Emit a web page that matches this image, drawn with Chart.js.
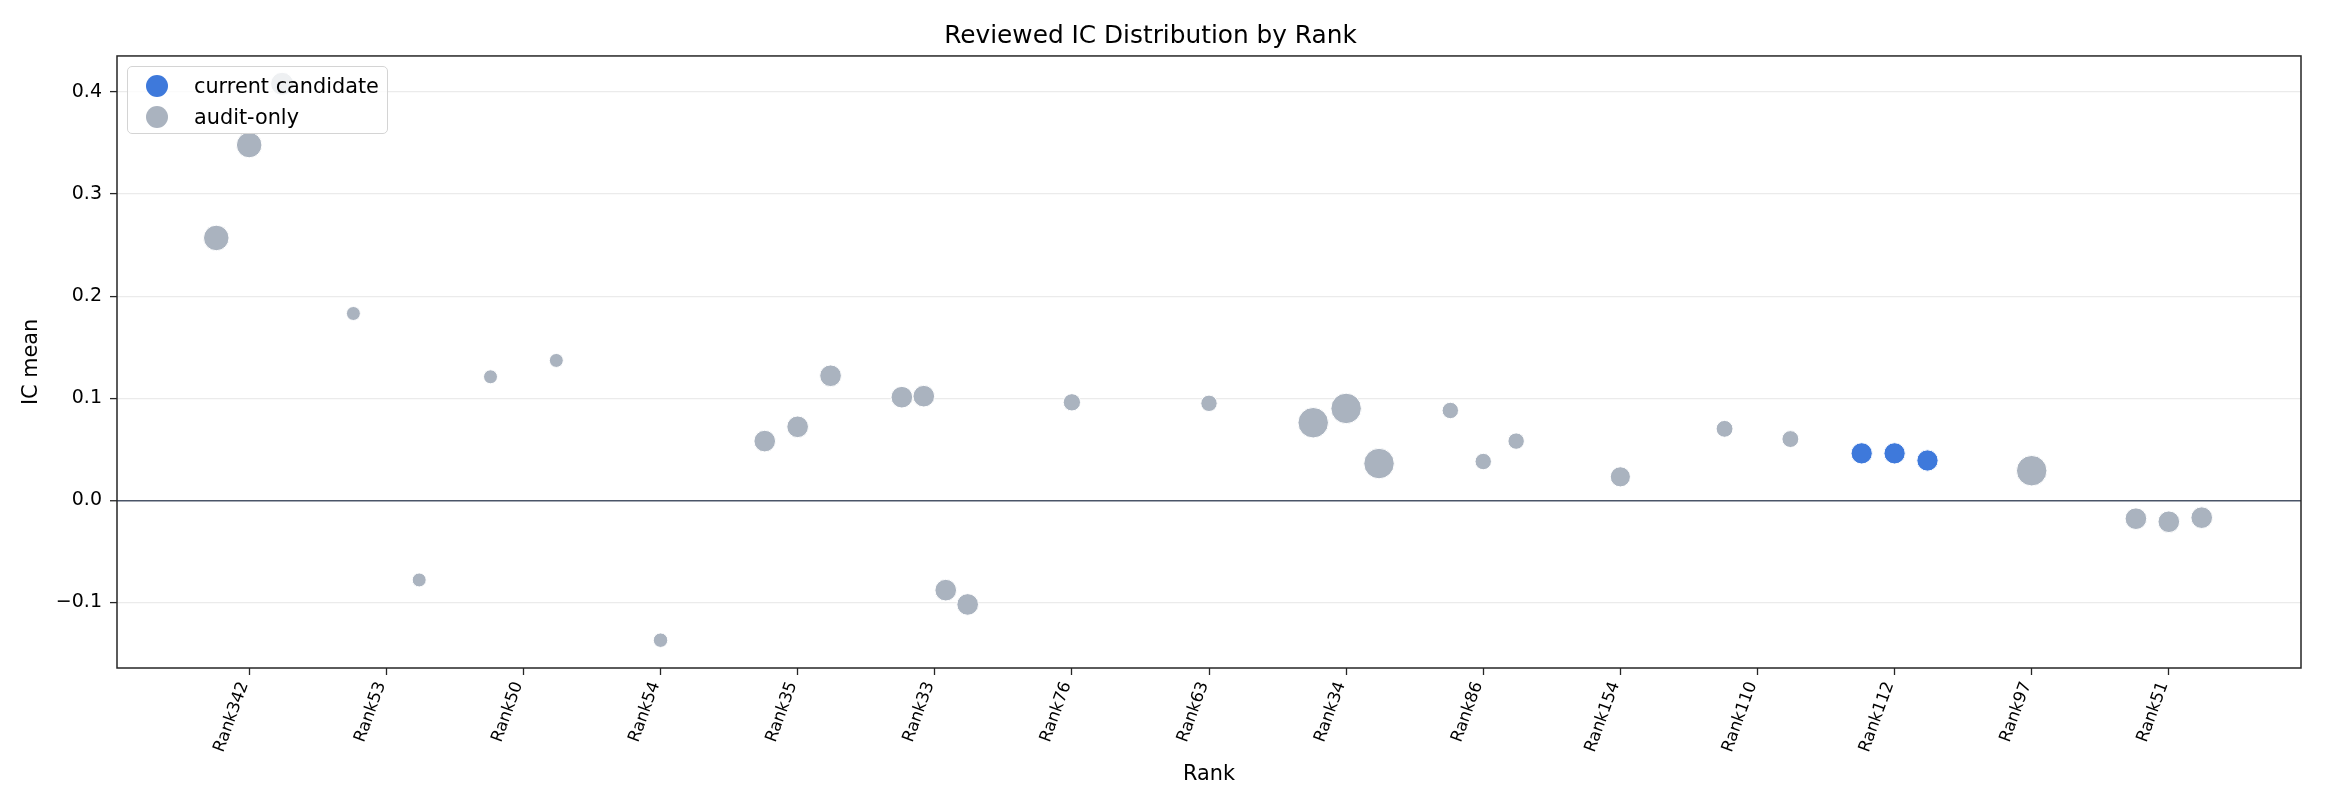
<!DOCTYPE html>
<html>
<head>
<meta charset="utf-8">
<script src="https://cdn.jsdelivr.net/npm/chart.js@4"></script>
<style>
  body { margin: 0; background: #fff; }
  #wrap { position: relative; width: 2325px; height: 810px; }
  #legend {
    position: absolute; left: 127px; top: 66px; width: 259px; height: 66px;
    border: 1.5px solid #d4d4d4; border-radius: 5px; background: rgba(255,255,255,0.8);
    font-family: 'DejaVu Sans', sans-serif; font-size: 20.8px; color: #000;
  }
  #legend .item { position: absolute; left: 0; height: 30px; line-height: 30px; white-space: nowrap; }
  #legend .dot { position: absolute; left: 18px; top: 4px; width: 22px; height: 22px; border-radius: 50%; }
  #legend .txt { position: absolute; left: 66px; top: 0; }
</style>
</head>
<body>
<div id="wrap">
  <canvas id="chart" width="2325" height="810"></canvas>
  <div id="legend"></div>
</div>
<script>
// categories along the x axis
const ranks = ['Rank342', 'Rank53', 'Rank50', 'Rank54', 'Rank35', 'Rank33', 'Rank76', 'Rank63',
  'Rank34', 'Rank86', 'Rank154', 'Rank110', 'Rank112', 'Rank97', 'Rank51'];

// one entry per reviewed factor
const pointRank = ['Rank342', 'Rank342', 'Rank342', 'Rank53', 'Rank53', 'Rank50', 'Rank50', 'Rank54',
  'Rank35', 'Rank35', 'Rank35', 'Rank33', 'Rank33', 'Rank33', 'Rank33', 'Rank76', 'Rank63',
  'Rank34', 'Rank34', 'Rank34', 'Rank86', 'Rank86', 'Rank86', 'Rank154', 'Rank110', 'Rank110',
  'Rank112', 'Rank112', 'Rank112', 'Rank97', 'Rank51', 'Rank51', 'Rank51'];
const icMean = [0.257, 0.348, 0.408, 0.183, -0.078, 0.121, 0.137, -0.137,
  0.058, 0.072, 0.122, 0.101, 0.102, -0.088, -0.102, 0.096, 0.095,
  0.076, 0.090, 0.036, 0.088, 0.038, 0.058, 0.023, 0.070, 0.060,
  0.046, 0.046, 0.039, 0.029, -0.018, -0.021, -0.017];
const weight = [44, 44, 36, 14, 14, 14, 14, 15,
  32, 32, 32, 32, 32, 32, 32, 21, 19,
  62, 62, 62, 19, 19, 19, 28, 20, 20,
  31, 31, 31, 62, 32, 32, 32];
const candidate = [false, false, false, false, false, false, false, false,
  false, false, false, false, false, false, false, false, false,
  false, false, false, false, false, false, false, false, false,
  true, true, true, false, false, false, false];

const seriesNames = ['current candidate', 'audit-only'];
const seriesColors = ['#3e79db', '#aab3bf'];

// spread points of one rank a little sideways
const groupCount = {};
pointRank.forEach(r => { groupCount[r] = (groupCount[r] || 0) + 1; });
const seen = {};
const points = pointRank.map((r, i) => {
  const n = groupCount[r];
  const k = seen[r] = (seen[r] === undefined ? 0 : seen[r] + 1);
  const jitter = n === 1 ? 0 : -0.24 + 0.48 * k / (n - 1);
  return { x: ranks.indexOf(r) + jitter, y: icMean[i], r: 2 * Math.sqrt(weight[i]) - 0.5, cand: candidate[i] };
});

const xs = points.map(p => p.x), ys = points.map(p => p.y);
const xPad = (Math.max(...xs) - Math.min(...xs)) * 0.05;
const yPad = (Math.max(...ys) - Math.min(...ys)) * 0.05;

const font = 'DejaVu Sans';

const framePlugin = {
  id: 'frame',
  afterDraw(chart) {
    const { ctx, chartArea: a } = chart;
    ctx.save();
    ctx.strokeStyle = '#262626';
    ctx.lineWidth = 1.5;
    ctx.strokeRect(a.left, a.top, a.right - a.left, a.bottom - a.top);
    ctx.restore();
  }
};

const chart = new Chart(document.getElementById('chart').getContext('2d'), {
  type: 'bubble',
  data: {
    datasets: [
      {
        label: seriesNames[1],
        data: points.filter(p => !p.cand),
        backgroundColor: seriesColors[1],
        borderColor: '#ffffff',
        borderWidth: 1,
      },
      {
        label: seriesNames[0],
        data: points.filter(p => p.cand),
        backgroundColor: seriesColors[0],
        borderColor: '#ffffff',
        borderWidth: 1,
      },
    ],
  },
  options: {
    responsive: false,
    animation: false,
    layout: { padding: { left: 0, right: 24, top: 0, bottom: 0 } },
    plugins: {
      legend: { display: false },
      tooltip: { enabled: false },
      title: {
        display: true,
        text: 'Reviewed IC Distribution by Rank',
        color: '#000',
        font: { family: font, size: 24.8, weight: 'normal' },
        padding: { top: 21.6, bottom: 4.6 }
      }
    },
    scales: {
      x: {
        type: 'linear',
        min: Math.min(...xs) - xPad,
        max: Math.max(...xs) + xPad,
        afterBuildTicks: scale => { scale.ticks = ranks.map((_, i) => ({ value: i })); },
        afterFit: scale => { scale.height = 142; },
        ticks: {
          autoSkip: false,
          minRotation: 70,
          maxRotation: 70,
          padding: 4,
          labelOffset: -5,
          color: '#000',
          font: { family: font, size: 16.7 },
          callback: v => ranks[v]
        },
        grid: { drawOnChartArea: false, drawTicks: true, tickLength: 7, tickColor: '#262626', tickWidth: 1.3 },
        border: { display: false },
        title: {
          display: true,
          text: 'Rank',
          color: '#000',
          font: { family: font, size: 20.8 },
          padding: { top: 0, bottom: 23 }
        }
      },
      y: {
        min: Math.min(...ys) - yPad,
        max: Math.max(...ys) + yPad,
        afterBuildTicks: scale => { scale.ticks = [-0.1, 0, 0.1, 0.2, 0.3, 0.4].map(v => ({ value: v })); },
        afterFit: scale => { scale.width = 117; },
        ticks: {
          padding: 8,
          color: '#000',
          font: { family: font, size: 19 },
          callback: v => v.toFixed(1).replace('-', '\u2212')
        },
        grid: {
          color: c => (c.tick && Math.abs(c.tick.value) < 1e-9) ? '#4a5568' : '#ebebeb',
          lineWidth: c => (c.tick && Math.abs(c.tick.value) < 1e-9) ? 1.5 : 1.2,
          tickLength: 7,
          tickColor: '#262626',
          tickWidth: 1.3
        },
        border: { display: false },
        title: {
          display: true,
          text: 'IC mean',
          color: '#000',
          font: { family: font, size: 20.8 },
          padding: { top: 19.5, bottom: 0 }
        }
      }
    }
  },
  plugins: [framePlugin]
});

// legend box inside the plot, upper left
const legendEl = document.getElementById('legend');
seriesNames.forEach((name, i) => {
  const item = document.createElement('div');
  item.className = 'item';
  item.style.top = (4 + i * 31) + 'px';
  item.innerHTML = '<span class="dot" style="background:' + seriesColors[i] + '"></span><span class="txt">' + name + '</span>';
  legendEl.appendChild(item);
});
</script>
</body>
</html>
